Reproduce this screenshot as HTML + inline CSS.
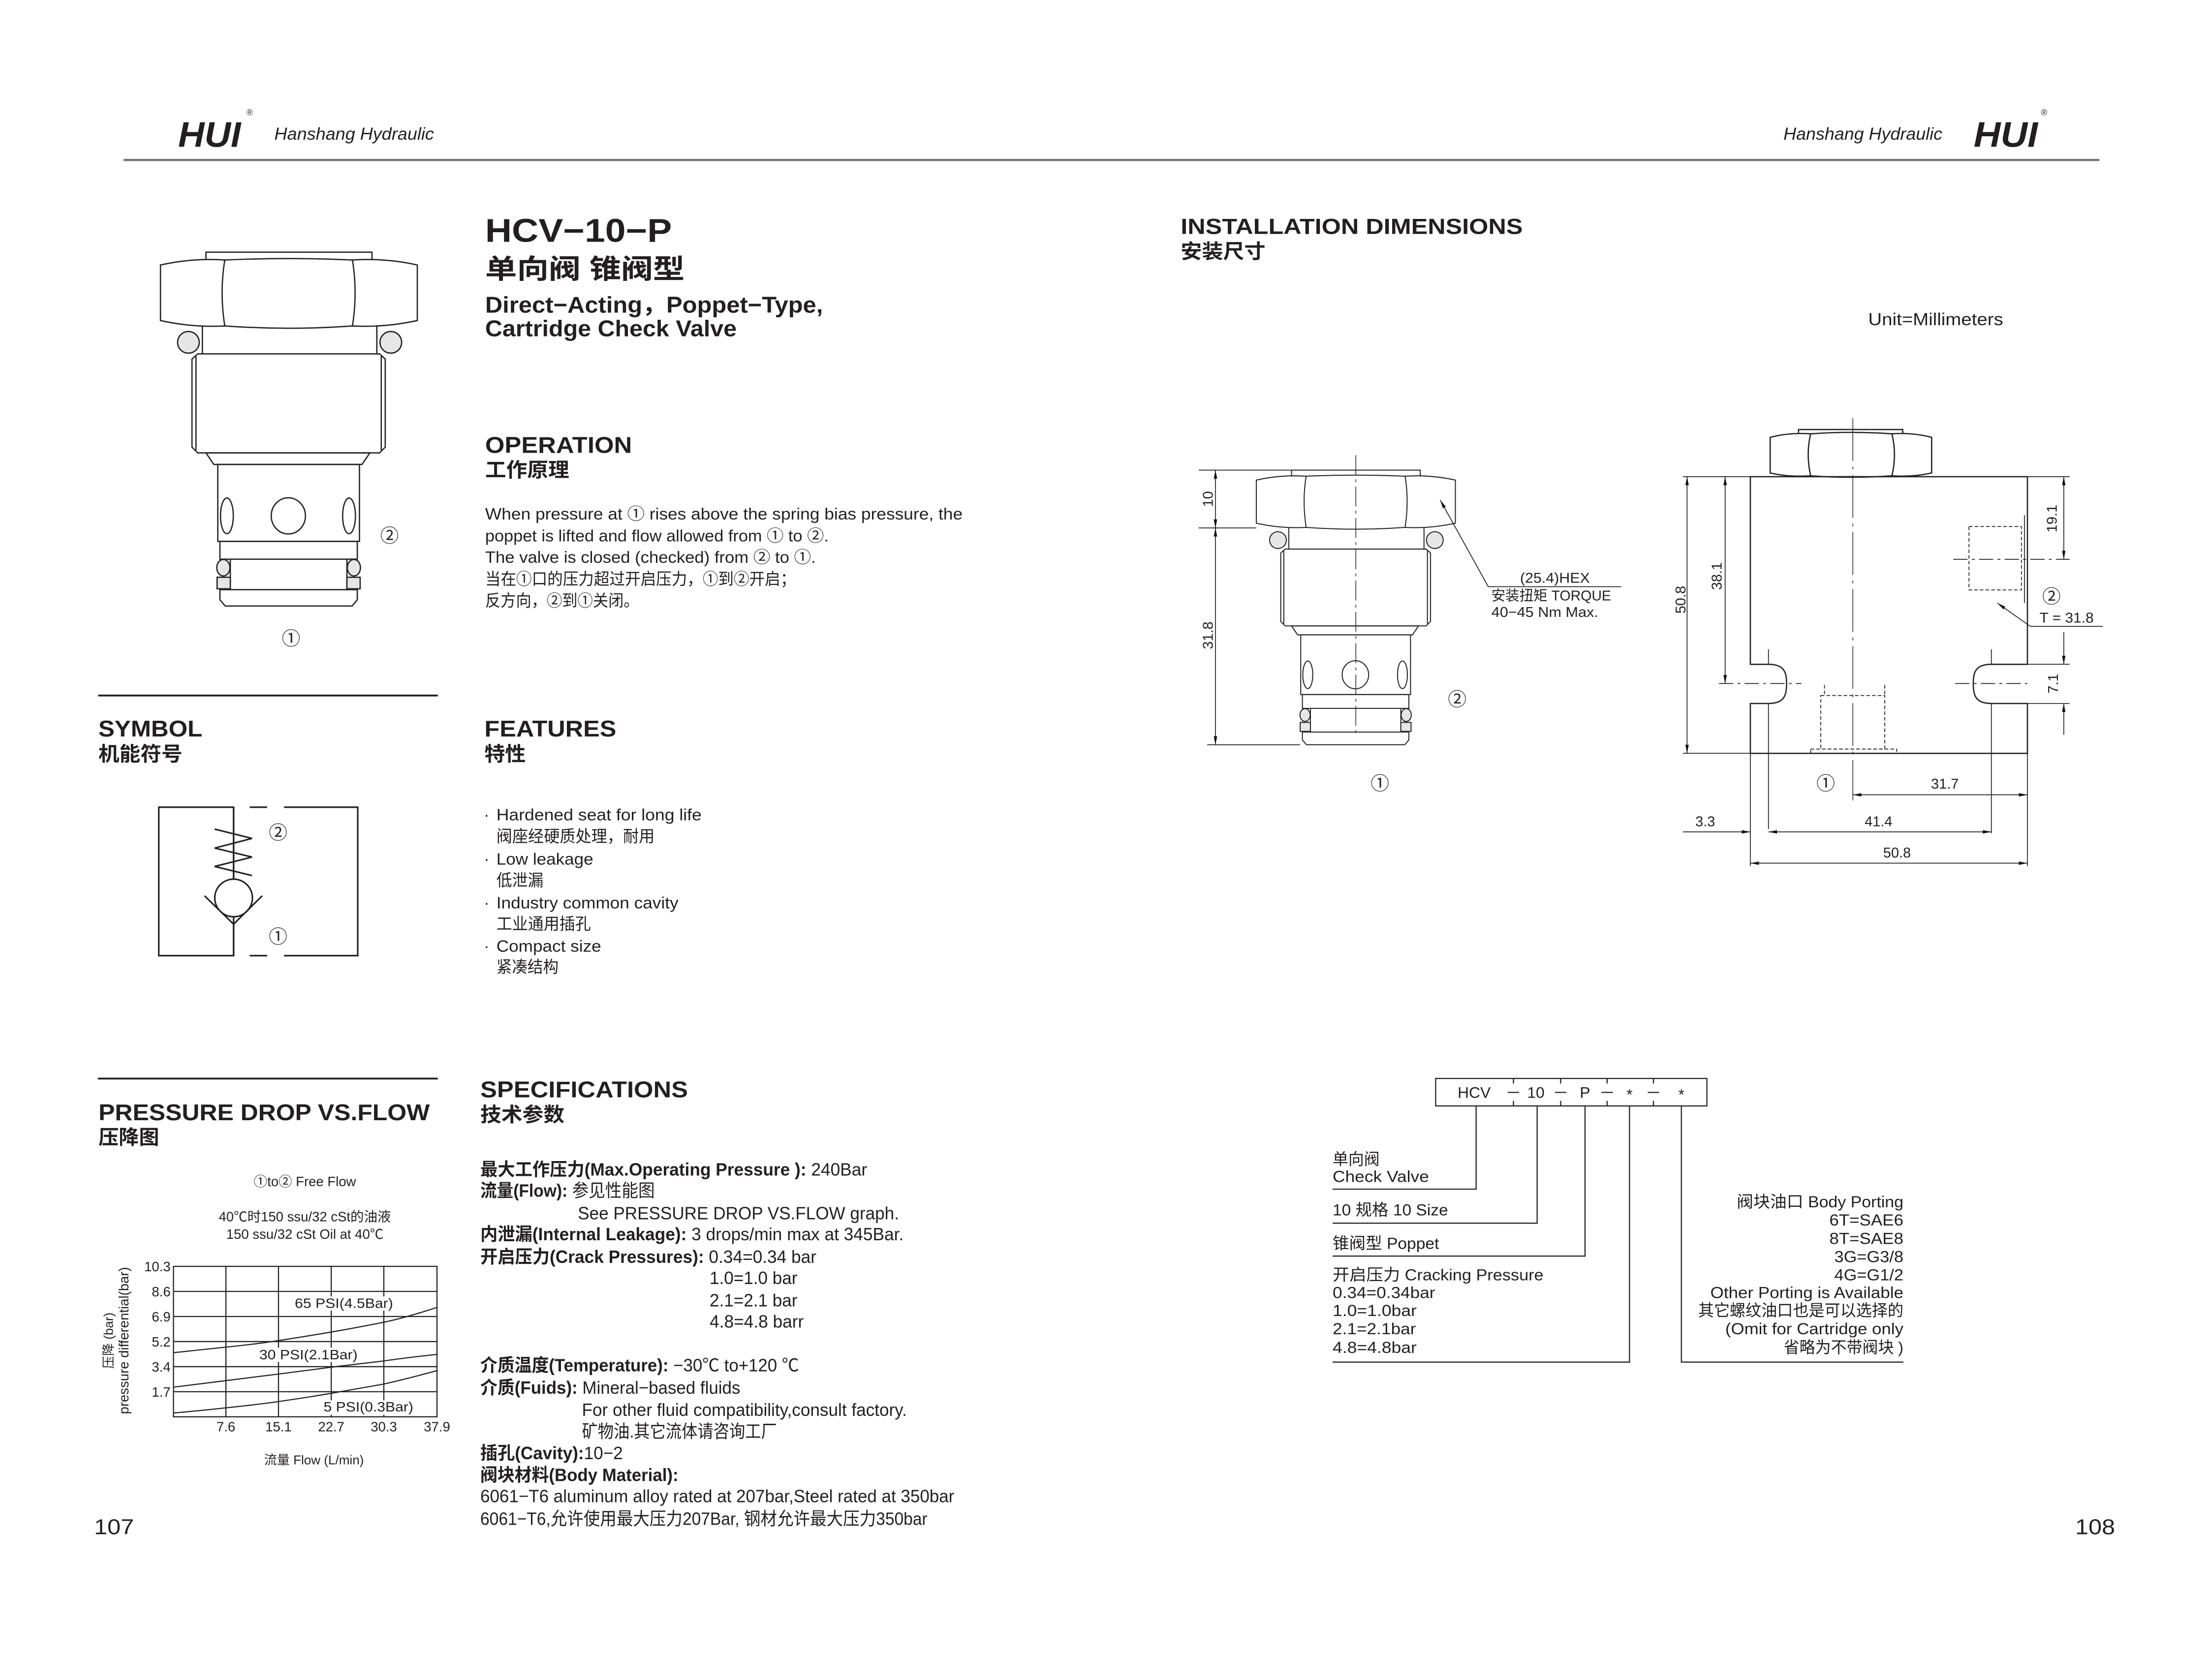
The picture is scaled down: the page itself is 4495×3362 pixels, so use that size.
<!DOCTYPE html>
<html><head><meta charset="utf-8"><style>
html,body{margin:0;padding:0;background:#fff}
svg{display:block}
text{font-family:"Liberation Sans","Noto Sans CJK SC",sans-serif;fill:#231f20}
.b{font-weight:bold}
</style></head><body>
<svg xmlns="http://www.w3.org/2000/svg" width="4495" height="3362" viewBox="0 0 1552 1161" preserveAspectRatio="none">
<defs>
<marker id="a" viewBox="0 0 10 4" refX="10" refY="2" markerWidth="7" markerHeight="2.4" markerUnits="userSpaceOnUse" orient="auto-start-reverse"><path d="M0,0 L10,2 L0,4 z" fill="#111"/></marker>
<g id="cart" fill="none" stroke="#222" stroke-width="0.9">
<rect x="144.5" y="177" width="116.5" height="5.5"/>
<path d="M112.6,186 Q135,181 157.7,182.5 Q202.7,180.5 247.3,182.5 Q270,181 292.8,186 L292.8,225 Q270,230 247.3,228.8 Q202.7,232 157.7,228.8 Q135,230 112.6,225 Z" fill="#fff"/>
<path d="M157.7,182.5 Q154,205 157.7,228.8 M247.3,182.5 Q251,205 247.3,228.8"/>
<circle cx="132.2" cy="240.3" r="7.6" fill="#e6e6e6"/>
<circle cx="274.2" cy="240.3" r="7.6" fill="#e6e6e6"/>
<path d="M142,228.8 V248.4 M264.4,228.8 V248.4"/>
<path d="M134.7,252 L138.7,248.4 H266.3 L270.3,252 V313.9 L266.3,317.9 H138.7 L134.7,313.9 Z"/>
<path d="M137.5,250 V316 M267.5,250 V316"/>
<path d="M144.5,317.9 H259.5 L254,326 H150 Z"/>
<rect x="152.8" y="326" width="99.4" height="54"/>
<ellipse cx="202.3" cy="362.1" rx="12" ry="12.7"/>
<ellipse cx="159.2" cy="362.1" rx="4.5" ry="12.5"/>
<ellipse cx="244.9" cy="362.1" rx="4.5" ry="12.5"/>
<rect x="154.3" y="380" width="96.4" height="12.5"/>
<path d="M161.6,392.5 V413.9 M243.4,392.5 V413.9"/>
<ellipse cx="156.7" cy="398.5" rx="4.6" ry="5.8" fill="#e6e6e6"/>
<ellipse cx="248.3" cy="398.5" rx="4.6" ry="5.8" fill="#e6e6e6"/>
<rect x="152.3" y="405.2" width="9.3" height="8.1" fill="#e6e6e6"/>
<rect x="243.4" y="405.2" width="9.3" height="8.1" fill="#e6e6e6"/>
<path d="M154.3,413.9 H250.7 V421 L247,425.4 H158 L154.3,421 Z"/>
</g>
</defs>

<!-- HEADER -->
<text x="125" y="103" class="b" font-size="25" font-style="italic" textLength="44" lengthAdjust="spacingAndGlyphs">HUI</text>
<text x="173" y="81" font-size="6">®</text>
<text x="192.5" y="98" font-size="12" font-style="italic" textLength="112" lengthAdjust="spacingAndGlyphs">Hanshang Hydraulic</text>
<text x="1251.3" y="98" font-size="12" font-style="italic" textLength="111.5" lengthAdjust="spacingAndGlyphs">Hanshang Hydraulic</text>
<text x="1384.8" y="103" class="b" font-size="25" font-style="italic" textLength="45" lengthAdjust="spacingAndGlyphs">HUI</text>
<text x="1432" y="81" font-size="6">®</text>
<line x1="86.7" y1="112.3" x2="1473" y2="112.3" stroke="#777" stroke-width="1.6"/>

<!-- LEFT CARTRIDGE -->
<use href="#cart"/>
<text x="273.3" y="380.5" font-size="13" text-anchor="middle">②</text>
<text x="204.2" y="452.7" font-size="13" text-anchor="middle">①</text>

<!-- TITLE -->
<text x="340.4" y="169.8" font-size="23" font-weight="bold" textLength="131" lengthAdjust="spacingAndGlyphs">HCV−10−P</text>
<text x="340.4" y="195.5" font-size="19" class="b" textLength="140" lengthAdjust="spacingAndGlyphs">单向阀 锥阀型</text>
<text x="340.4" y="219.5" font-size="16" class="b" textLength="237" lengthAdjust="spacingAndGlyphs">Direct−Acting，Poppet−Type,</text>
<text x="340.4" y="236" font-size="16" class="b" textLength="176.5" lengthAdjust="spacingAndGlyphs">Cartridge Check Valve</text>

<text x="340.4" y="317.8" font-size="16" font-weight="bold" textLength="103" lengthAdjust="spacingAndGlyphs">OPERATION</text>
<text x="340.4" y="334.6" font-size="14" class="b" textLength="59" lengthAdjust="spacingAndGlyphs">工作原理</text>
<g font-size="11.5">
<text x="340.4" y="364.7" textLength="335" lengthAdjust="spacingAndGlyphs">When pressure at ① rises above the spring bias pressure, the</text>
<text x="340.4" y="380" textLength="241" lengthAdjust="spacingAndGlyphs">poppet is lifted and flow allowed from ① to ②.</text>
<text x="340.4" y="395" textLength="232" lengthAdjust="spacingAndGlyphs">The valve is closed (checked) from ② to ①.</text>
<text x="340.4" y="410.4" textLength="218" lengthAdjust="spacingAndGlyphs">当在①口的压力超过开启压力，①到②开启；</text>
<text x="340.4" y="425.7" textLength="108" lengthAdjust="spacingAndGlyphs">反方向，②到①关闭。</text>
</g>

<!-- SYMBOL -->
<line x1="68.9" y1="488.2" x2="307.2" y2="488.2" stroke="#222" stroke-width="1.3"/>
<text x="69" y="516.9" font-size="16" font-weight="bold" textLength="73" lengthAdjust="spacingAndGlyphs">SYMBOL</text>
<text x="69" y="534" font-size="14" class="b" textLength="59" lengthAdjust="spacingAndGlyphs">机能符号</text>
<g fill="none" stroke="#222" stroke-width="1.1">
<path d="M163.9,566.6 H111.4 V670.8 H163.9 Z"/>
<path d="M199.3,566.6 H251 V670.8 H199.3"/>
<path d="M175.2,566.6 H187.4 M175.2,670.8 H187.4"/>
<path d="M163.9,566.6 V630 M163.9,648.7 V670.8"/>
<polyline points="150.6,582 176.8,588.5 150.6,595.3 176.8,601.6 150.6,608.2 176.8,614.6"/>
<circle cx="163.9" cy="630.3" r="13.2" fill="#fff"/>
<polyline points="143.5,628.8 163.9,648.7 184,628.8"/>
</g>
<text x="195.1" y="589" font-size="13" text-anchor="middle">②</text>
<text x="195.1" y="662" font-size="13" text-anchor="middle">①</text>

<!-- FEATURES -->
<text x="339.9" y="516.9" font-size="16" font-weight="bold" textLength="92.5" lengthAdjust="spacingAndGlyphs">FEATURES</text>
<text x="339.9" y="534" font-size="14" class="b" textLength="29" lengthAdjust="spacingAndGlyphs">特性</text>
<g font-size="11.5">
<text x="339.5" y="575.9">·</text><text x="348.3" y="575.9" textLength="144" lengthAdjust="spacingAndGlyphs">Hardened seat for long life</text>
<text x="348.3" y="591" textLength="111" lengthAdjust="spacingAndGlyphs">阀座经硬质处理，耐用</text>
<text x="339.5" y="607">·</text><text x="348.3" y="607" textLength="68" lengthAdjust="spacingAndGlyphs">Low leakage</text>
<text x="348.3" y="622" textLength="33" lengthAdjust="spacingAndGlyphs">低泄漏</text>
<text x="339.5" y="637.7">·</text><text x="348.3" y="637.7" textLength="127.7" lengthAdjust="spacingAndGlyphs">Industry common cavity</text>
<text x="348.3" y="652.5" textLength="66.3" lengthAdjust="spacingAndGlyphs">工业通用插孔</text>
<text x="339.5" y="668">·</text><text x="348.3" y="668" textLength="73.5" lengthAdjust="spacingAndGlyphs">Compact size</text>
<text x="348.3" y="682.8" textLength="43.6" lengthAdjust="spacingAndGlyphs">紧凑结构</text>
</g>

<!-- PRESSURE DROP -->
<line x1="68.7" y1="757.1" x2="307.2" y2="757.1" stroke="#222" stroke-width="1.3"/>
<text x="69.1" y="786.3" font-size="16" font-weight="bold" textLength="232.4" lengthAdjust="spacingAndGlyphs">PRESSURE DROP VS.FLOW</text>
<text x="69.1" y="803" font-size="14" class="b" textLength="42.6" lengthAdjust="spacingAndGlyphs">压降图</text>
<text x="213.9" y="832.6" font-size="9.5" text-anchor="middle">①to② Free Flow</text>
<text x="213.9" y="857.2" font-size="9.5" text-anchor="middle">40℃时150 ssu/32 cSt的油液</text>
<text x="213.9" y="869.5" font-size="9.5" text-anchor="middle">150 ssu/32 cSt Oil at 40℃</text>
<g stroke="#222" stroke-width="0.8" fill="none">
<rect x="121.7" y="888.9" width="184.9" height="105.6"/>
<path d="M158.5,888.9 V994.5 M195.4,888.9 V994.5 M232.4,888.9 V994.5 M269.3,888.9 V994.5"/>
<path d="M121.7,906.5 H306.6 M121.7,924.1 H306.6 M121.7,941.7 H306.6 M121.7,959.3 H306.6 M121.7,976.9 H306.6"/>
</g>
<g fill="#fff">
<rect x="205" y="910" width="73" height="10"/>
<rect x="180" y="946" width="73" height="10"/>
<rect x="225" y="983" width="67" height="10"/>
</g>
<g stroke="#222" stroke-width="0.8" fill="none">
<path d="M121.7,949.5 C140,947.5 158.5,945.6 158.5,945.6 C180,943.5 195.4,941 195.4,941 C215,938 232.4,935 232.4,935 C250,932 269.3,928.1 269.3,928.1 C285,925 306.6,917.7 306.6,917.7"/>
<path d="M121.7,973.7 C140,971.5 158.5,969.1 158.5,969.1 C180,966.5 195.4,964.5 195.4,964.5 C215,962 232.4,959.7 232.4,959.7 C250,957.5 269.3,955.3 269.3,955.3 C285,953 306.6,950.7 306.6,950.7"/>
<path d="M121.7,991.8 C140,990.3 158.5,988.2 158.5,988.2 C180,986 195.4,983.8 195.4,983.8 C215,981 232.4,978 232.4,978 C250,975 269.3,971.5 269.3,971.5 C285,968 306.6,962.1 306.6,962.1"/>
</g>
<g font-size="9.5">
<text x="206.8" y="918" textLength="69" lengthAdjust="spacingAndGlyphs">65 PSI(4.5Bar)</text>
<text x="181.9" y="954.1" textLength="69" lengthAdjust="spacingAndGlyphs">30 PSI(2.1Bar)</text>
<text x="227" y="990.7" textLength="63" lengthAdjust="spacingAndGlyphs">5 PSI(0.3Bar)</text>
</g>
<g font-size="9.5" text-anchor="end">
<text x="119.7" y="892.3">10.3</text><text x="119.7" y="910">8.6</text><text x="119.7" y="927.6">6.9</text>
<text x="119.7" y="945.2">5.2</text><text x="119.7" y="962.8">3.4</text><text x="119.7" y="980.4">1.7</text>
</g>
<g font-size="9.5" text-anchor="middle">
<text x="158.5" y="1004.7">7.6</text><text x="195.4" y="1004.7">15.1</text><text x="232.4" y="1004.7">22.7</text>
<text x="269.3" y="1004.7">30.3</text><text x="306.6" y="1004.7">37.9</text>
<text x="220.3" y="1027.9" font-size="9">流量 Flow (L/min)</text>
<text transform="translate(79.2,941) rotate(-90)" font-size="9">压降 (bar)</text>
<text transform="translate(90.2,941) rotate(-90)" font-size="9.5">pressure differential(bar)</text>
</g>

<!-- SPECIFICATIONS -->
<text x="337" y="770.3" font-size="16" font-weight="bold" textLength="145.7" lengthAdjust="spacingAndGlyphs">SPECIFICATIONS</text>
<text x="337" y="787.2" font-size="14" class="b" textLength="59" lengthAdjust="spacingAndGlyphs">技术参数</text>
<g font-size="12.5">
<text x="337" y="825.2" textLength="271.4" lengthAdjust="spacingAndGlyphs"><tspan class="b">最大工作压力(Max.Operating Pressure ):</tspan> 240Bar</text>
<text x="337" y="840" textLength="122.4" lengthAdjust="spacingAndGlyphs"><tspan class="b">流量(Flow):</tspan> 参见性能图</text>
<text x="405.4" y="855.9" textLength="225.4" lengthAdjust="spacingAndGlyphs">See PRESSURE DROP VS.FLOW graph.</text>
<text x="337" y="870.6" textLength="297" lengthAdjust="spacingAndGlyphs"><tspan class="b">内泄漏(Internal Leakage):</tspan> 3 drops/min max at 345Bar.</text>
<text x="337" y="886.5" textLength="235.8" lengthAdjust="spacingAndGlyphs"><tspan class="b">开启压力(Crack Pressures):</tspan> 0.34=0.34 bar</text>
<text x="497.9" y="901.3" textLength="61.6" lengthAdjust="spacingAndGlyphs">1.0=1.0 bar</text>
<text x="497.9" y="917.1" textLength="61.6" lengthAdjust="spacingAndGlyphs">2.1=2.1 bar</text>
<text x="497.9" y="931.9" textLength="66" lengthAdjust="spacingAndGlyphs">4.8=4.8 barr</text>
<text x="337" y="962.6" textLength="223.6" lengthAdjust="spacingAndGlyphs"><tspan class="b">介质温度(Temperature):</tspan> −30℃ to+120 ℃</text>
<text x="337" y="978.4" textLength="182.4" lengthAdjust="spacingAndGlyphs"><tspan class="b">介质(Fuids):</tspan> Mineral−based fluids</text>
<text x="408.3" y="993.9" textLength="228" lengthAdjust="spacingAndGlyphs">For other fluid compatibility,consult factory.</text>
<text x="408.3" y="1009.1" textLength="136.8" lengthAdjust="spacingAndGlyphs">矿物油.其它流体请咨询工厂</text>
<text x="337" y="1024.3" textLength="100" lengthAdjust="spacingAndGlyphs"><tspan class="b">插孔(Cavity):</tspan>10−2</text>
<text x="337" y="1039.7" class="b" textLength="139" lengthAdjust="spacingAndGlyphs">阀块材料(Body Material):</text>
<text x="337" y="1054.5" textLength="332.6" lengthAdjust="spacingAndGlyphs">6061−T6 aluminum alloy rated at 207bar,Steel rated at 350bar</text>
<text x="337" y="1070.4" textLength="313.7" lengthAdjust="spacingAndGlyphs">6061−T6,允许使用最大压力207Bar, 钢材允许最大压力350bar</text>
</g>

<text x="66" y="1077" font-size="15" textLength="28" lengthAdjust="spacingAndGlyphs">107</text>
<text x="1456" y="1077" font-size="15" textLength="28" lengthAdjust="spacingAndGlyphs">108</text>

<!-- INSTALLATION -->
<text x="828.4" y="164.2" font-size="15.5" font-weight="bold" textLength="240" lengthAdjust="spacingAndGlyphs">INSTALLATION DIMENSIONS</text>
<text x="828.4" y="181.3" font-size="14" class="b" textLength="59.5" lengthAdjust="spacingAndGlyphs">安装尺寸</text>
<text x="1310.8" y="228.2" font-size="12" textLength="94.7" lengthAdjust="spacingAndGlyphs">Unit=Millimeters</text>

<!-- install cartridge -->
<use href="#cart" transform="translate(951.3,330) scale(0.775,0.776) translate(-202.7,-177)"/>
<g stroke="#222" stroke-width="0.6" fill="none">
<line x1="951.3" y1="319.5" x2="951.3" y2="517" stroke-dasharray="14 3 2 3" stroke-width="0.5"/>
<path d="M841,330 H906 M841,370.6 H881.5 M847,522.8 H912"/>
<line x1="852.8" y1="330" x2="852.8" y2="370.6" marker-start="url(#a)" marker-end="url(#a)"/>
<line x1="852.8" y1="370.6" x2="852.8" y2="522.8" marker-start="url(#a)" marker-end="url(#a)"/>
<polyline points="1010.5,351 1044.2,411.8 1137.4,411.8" marker-start="url(#a)"/>
</g>
<g font-size="10">
<text transform="translate(851,350.3) rotate(-90)" text-anchor="middle">10</text>
<text transform="translate(851,446) rotate(-90)" text-anchor="middle">31.8</text>
<text x="1091" y="409" text-anchor="middle" textLength="49" lengthAdjust="spacingAndGlyphs">(25.4)HEX</text>
<text x="1046.4" y="421.5" textLength="84" lengthAdjust="spacingAndGlyphs">安装扭矩 TORQUE</text>
<text x="1046.4" y="433" textLength="75" lengthAdjust="spacingAndGlyphs">40−45  Nm Max.</text>
</g>
<text x="1022.4" y="495.3" font-size="13" text-anchor="middle">②</text>
<text x="968.2" y="554.4" font-size="13" text-anchor="middle">①</text>

<!-- block -->
<g stroke="#222" stroke-width="0.9" fill="none">
<rect x="1261.9" y="301.5" width="73.1" height="3"/>
<path d="M1242,307 Q1255,303.5 1270.4,304.5 Q1298.7,302.5 1327.4,304.5 Q1342,303.5 1355.3,307 V332 Q1342,335 1327.4,334 Q1298.7,336 1270.4,334 Q1255,335 1242,332 Z" fill="#fff"/>
<path d="M1270.4,304.5 Q1267,319 1270.4,334 M1327.4,304.5 Q1331,319 1327.4,334"/>
<path d="M1228.1,334.6 H1422.5 V466.3 H1397.2 C1386,466.3 1384.5,472 1384.5,479.8 C1384.5,488 1386,493.8 1397.2,493.8 H1422.5 V528.8 H1228.1 V493.8 H1240.8 C1252,493.8 1253.5,488 1253.5,479.8 C1253.5,472 1252,466.3 1240.8,466.3 H1228.1 Z"/>
</g>
<g stroke="#222" stroke-width="0.6" fill="none">
<path d="M1240.8,455.7 V466.3 M1240.8,493.8 V581.9 M1397.2,455.7 V466.3 M1397.2,493.8 V584.9 M1228.1,528.8 V607.9 M1422.5,528.8 V607.9"/>
<line x1="1300" y1="293.5" x2="1300" y2="561.9" stroke-dasharray="30 4 2 4" stroke-width="0.5"/>
<path d="M1206.1,479.8 H1264 M1371.8,479.8 H1422.5 M1370.5,392.6 H1452.1" stroke-dasharray="10 3 2 3"/>
<path d="M1180.8,334.6 H1228.1 M1180.8,528.8 H1228.1 M1422.5,334.6 H1452.1 M1422.5,466.3 H1452.1 M1422.5,493.8 H1452.1"/>
<g stroke-dasharray="2.5 1.5">
<rect x="1277.5" y="488.2" width="44.9" height="37.6"/>
<rect x="1270.4" y="525.8" width="60.4" height="3"/>
<path d="M1280.1,480.8 V488.2 M1322.4,480.8 V488.2"/>
<rect x="1381.5" y="369.6" width="36.8" height="44.5"/>
</g>
<line x1="1420.4" y1="361.6" x2="1420.4" y2="423.3"/>
<line x1="1183.7" y1="334.6" x2="1183.7" y2="528.8" marker-start="url(#a)" marker-end="url(#a)"/>
<line x1="1210.4" y1="334.6" x2="1210.4" y2="479.8" marker-start="url(#a)" marker-end="url(#a)"/>
<line x1="1448" y1="334.6" x2="1448" y2="392.6" marker-start="url(#a)" marker-end="url(#a)"/>
<line x1="1448" y1="443.7" x2="1448" y2="466.3" marker-end="url(#a)"/>
<line x1="1448" y1="515.8" x2="1448" y2="493.8" marker-end="url(#a)"/>
<polyline points="1401.4,423.3 1424.6,439.7 1475.4,439.7" marker-start="url(#a)"/>
<line x1="1300" y1="557.9" x2="1422.5" y2="557.9" marker-start="url(#a)" marker-end="url(#a)"/>
<line x1="1240.8" y1="583.9" x2="1397.2" y2="583.9" marker-start="url(#a)" marker-end="url(#a)"/>
<line x1="1180.8" y1="583.9" x2="1228.1" y2="583.9" marker-end="url(#a)"/>
<line x1="1228.1" y1="605.9" x2="1422.5" y2="605.9" marker-start="url(#a)" marker-end="url(#a)"/>
</g>
<g font-size="10">
<text transform="translate(1182.5,421) rotate(-90)" text-anchor="middle">50.8</text>
<text transform="translate(1208,404.4) rotate(-90)" text-anchor="middle">38.1</text>
<text transform="translate(1443,364) rotate(-90)" text-anchor="middle">19.1</text>
<text transform="translate(1444,479.8) rotate(-90)" text-anchor="middle">7.1</text>
<text x="1431" y="437" textLength="38" lengthAdjust="spacingAndGlyphs">T = 31.8</text>
<text x="1364.6" y="553.5" text-anchor="middle">31.7</text>
<text x="1318" y="580" text-anchor="middle">41.4</text>
<text x="1196.4" y="580" text-anchor="middle">3.3</text>
<text x="1331" y="602" text-anchor="middle">50.8</text>
</g>
<text x="1439.4" y="423.2" font-size="13" text-anchor="middle">②</text>
<text x="1281" y="554.4" font-size="13" text-anchor="middle">①</text>

<!-- ORDERING CODE -->
<g stroke="#222" stroke-width="0.8" fill="none">
<rect x="1007.3" y="757" width="190.3" height="19.3"/>
<path d="M1061.9,757 V760.6 M1061.9,772.7 V776.3 M1095,757 V760.6 M1095,772.7 V776.3 M1127.6,757 V760.6 M1127.6,772.7 V776.3 M1160.1,757 V760.6 M1160.1,772.7 V776.3"/>
<path d="M1057.9,766.8 H1065.9 M1091,766.8 H1099 M1123.6,766.8 H1131.6 M1156.1,766.8 H1164.1"/>
<polyline points="1035.7,776.3 1035.7,834.7 935,834.7"/>
<polyline points="1078.5,776.3 1078.5,858.6 935,858.6"/>
<polyline points="1112.1,776.3 1112.1,881.7 935,881.7"/>
<polyline points="1143.3,776.3 1143.3,956.1 935,956.1"/>
<polyline points="1179.7,776.3 1179.7,956.1 1335.5,956.1"/>
</g>
<g font-size="11" text-anchor="middle">
<text x="1034.3" y="770.6">HCV</text><text x="1077.6" y="770.6">10</text><text x="1112.1" y="770.6">P</text>
<text x="1143.3" y="772">*</text><text x="1179.7" y="772">*</text>
</g>
<g font-size="11.3">
<text x="935" y="817.6" textLength="33" lengthAdjust="spacingAndGlyphs">单向阀</text>
<text x="935" y="829.7" textLength="67.6" lengthAdjust="spacingAndGlyphs">Check Valve</text>
<text x="935" y="853.2" textLength="81" lengthAdjust="spacingAndGlyphs">10 规格 10 Size</text>
<text x="935" y="876.7" textLength="74.7" lengthAdjust="spacingAndGlyphs">锥阀型 Poppet</text>
<text x="935" y="898.7" textLength="148" lengthAdjust="spacingAndGlyphs">开启压力 Cracking Pressure</text>
<text x="935" y="911.1" textLength="72" lengthAdjust="spacingAndGlyphs">0.34=0.34bar</text>
<text x="935" y="923.7" textLength="59" lengthAdjust="spacingAndGlyphs">1.0=1.0bar</text>
<text x="935" y="936.5" textLength="58.5" lengthAdjust="spacingAndGlyphs">2.1=2.1bar</text>
<text x="935" y="949.6" textLength="59" lengthAdjust="spacingAndGlyphs">4.8=4.8bar</text>
</g>
<g font-size="11.3" text-anchor="end">
<text x="1335.5" y="847.5" textLength="117" lengthAdjust="spacingAndGlyphs">阀块油口 Body Porting</text>
<text x="1335.5" y="860.3" textLength="52" lengthAdjust="spacingAndGlyphs">6T=SAE6</text>
<text x="1335.5" y="873.1" textLength="52" lengthAdjust="spacingAndGlyphs">8T=SAE8</text>
<text x="1335.5" y="886" textLength="48.5" lengthAdjust="spacingAndGlyphs">3G=G3/8</text>
<text x="1335.5" y="898.7" textLength="48.5" lengthAdjust="spacingAndGlyphs">4G=G1/2</text>
<text x="1335.5" y="911.1" textLength="135.5" lengthAdjust="spacingAndGlyphs">Other Porting is Available</text>
<text x="1335.5" y="923.7" textLength="144" lengthAdjust="spacingAndGlyphs">其它螺纹油口也是可以选择的</text>
<text x="1335.5" y="936.5" textLength="125" lengthAdjust="spacingAndGlyphs">(Omit for Cartridge only</text>
<text x="1335.5" y="949.6" textLength="84" lengthAdjust="spacingAndGlyphs">省略为不带阀块 )</text>
</g>
</svg>
</body></html>
